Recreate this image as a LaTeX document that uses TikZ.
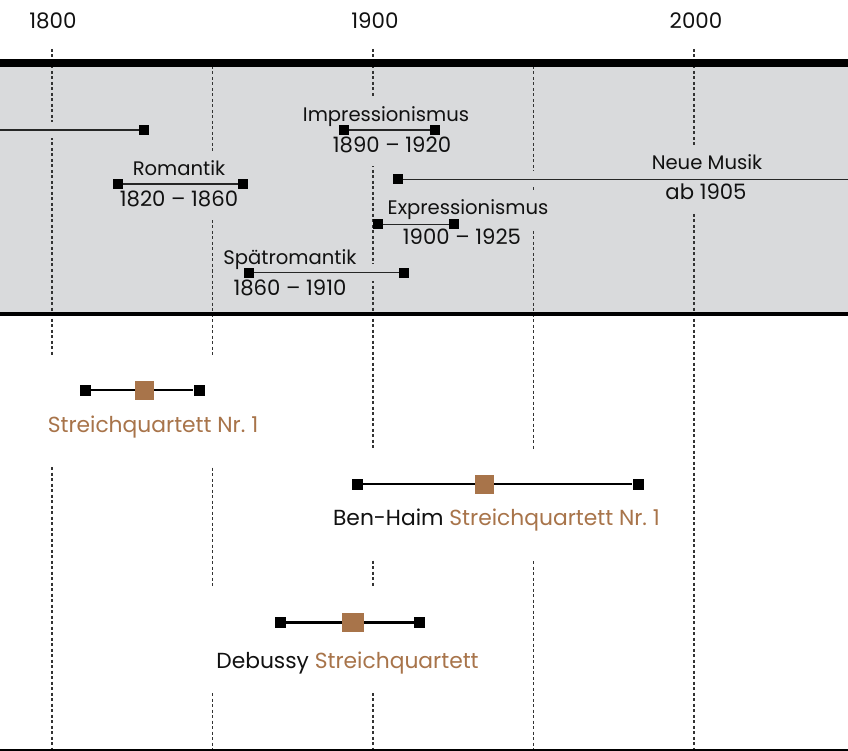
\documentclass[tikz,border=0pt]{standalone}
\usepackage{fontspec}
\setmainfont{Poppins}
\definecolor{bandgray}{HTML}{D9DADC}
\definecolor{wcol}{HTML}{A8744A}
\definecolor{ink}{HTML}{111111}
\pgfdeclarelayer{bg}
\pgfdeclarelayer{mask}
\pgfsetlayers{bg,mask,main}
\begin{document}
\begin{tikzpicture}[x=1pt,y=-1pt,
  gridline/.style={draw=black!80, line width=1.1pt, dash pattern=on 3pt off 2.5pt},
  txt/.style={text=ink, anchor=base, inner xsep=5pt, inner ysep=9pt, text height=15pt, text depth=4pt},
  ptitle/.style={txt, fill=bandgray, font=\fontsize{19.6}{20}\selectfont},
  pyears/.style={txt, fill=bandgray, font=\fontsize{21.2}{22}\selectfont},
  wlbl/.style={txt, fill=white, font=\fontsize{21.8}{22}\selectfont},
  ylbl/.style={txt, font=\fontsize{21.4}{22}\selectfont},
  sq/.style={fill=black, minimum size=10pt, inner sep=0pt, draw=none},
  wsq/.style={sq, minimum size=11pt},
  bsq/.style={fill=wcol, minimum size=19pt, inner sep=0pt, draw=none},
  pbar/.style={draw=black!85, line width=1.4pt},
  wbar/.style={draw=black, line width=2.6pt},
  halo/.style={draw=bandgray, line width=16pt},
  wmask/.style={fill=white, draw=none}]
\useasboundingbox (0,0) rectangle (848,751);

% band and grid
\begin{pgfonlayer}{bg}
  \fill[bandgray] (0,63) rectangle (848,314);
  \foreach \x in {52,373,694} \draw[gridline] (\x,49) -- (\x,750);
  \foreach \x in {212.5,533.5} \draw[gridline] (\x,66) -- (\x,750);
  \draw[line width=8pt] (0,63.5) -- (848,63.5);
  \draw[line width=4.5pt] (0,314) -- (848,314);
  \draw[line width=1.5pt] (0,750) -- (848,750);
\end{pgfonlayer}

% year labels
\node[ylbl] (y1800) at (53,29) {1800};
\node[ylbl] (y1900) at (375,29) {1900};
\node[ylbl] (y2000) at (696,29) {2000};

% period labels
\node[ptitle] (impT) at (386,122) {Impressionismus};
\node[pyears] (impY) at (392,153) {1890 – 1920};
\node[ptitle] (romT) at (179,176) {Romantik};
\node[pyears] (romY) at (179,207) {1820 – 1860};
\node[ptitle] (nmT) at (707,170) {Neue Musik};
\node[pyears] (nmY) at (706,200) {ab 1905};
\node[ptitle] (expT) at (468,215) {Expressionismus};
\node[pyears] (expY) at (462,245) {1900 – 1925};
\node[ptitle] (spT) at (290,265) {Spätromantik};
\node[pyears] (spY) at (290,295) {1860 – 1910};

% work labels
\node[wlbl] (w1) at (153,432) {\color{wcol}Streichquartett Nr.~1};
\node[wlbl] (w2) at (496.5,525) {Ben-Haim \textcolor{wcol}{Streichquartett Nr.~1}};
\node[wlbl] (w3) at (347.5,668) {Debussy \textcolor{wcol}{Streichquartett}};

% period bars
\coordinate (klL) at (0,130);
\node[sq] (klR) at (144,130) {};
\node[sq] (impA) at (344,130) {};
\node[sq] (impB) at (435,130) {};
\node[sq] (romA) at (118,184) {};
\node[sq] (romB) at (243,184) {};
\node[sq] (nmA) at (398,179.5) {};
\coordinate (nmB) at (848,179.5);
\node[sq] (expA) at (377.5,224.5) {};
\node[sq] (expB) at (454,224.5) {};
\node[sq] (spA) at (249,272.5) {};
\node[sq] (spB) at (404,272.5) {};

\draw[pbar] (klL) -- (klR);
\draw[pbar] (impA) -- (impB);
\draw[pbar] (romA) -- (romB);
\draw[pbar] (nmA) -- (nmB);
\draw[pbar] (expA) -- (expB);
\draw[pbar] (spA) -- (spB);

% work bars
\node[wsq] (w1A) at (85,390) {};
\node[wsq] (w1B) at (199,390) {};
\node[wsq] (w2A) at (357,484) {};
\node[wsq] (w2B) at (638,484) {};
\node[wsq] (w3A) at (280.5,622.5) {};
\node[wsq] (w3B) at (419.5,622.5) {};
\draw[wbar] (w1A) -- (w1B);
\draw[wbar] (w2A) -- (w2B);
\draw[wbar] (w3A) -- (w3B);
\node[bsq] (w1C) at (144.5,390.5) {};
\node[bsq] (w2C) at (484,484) {};
\node[bsq, minimum width=22pt] (w3C) at (353,622.5) {};

% masks
\begin{pgfonlayer}{mask}
  \draw[halo] (klL) -- (klR.center);
  \draw[halo] (impA.center) -- (impB.center);
  \draw[halo] (romA.center) -- (romB.center);
  \draw[halo] (nmA.center) -- (nmB);
  \draw[halo] (expA.center) -- (expB.center);
  \draw[halo] (spA.center) -- (spB.center);
  \fill[wmask] (40,356) rectangle (268,465);
  \fill[wmask] (325,450) rectangle (668,560);
  \fill[wmask] (209,587) rectangle (486,693);
\end{pgfonlayer}
\end{tikzpicture}
\end{document}
